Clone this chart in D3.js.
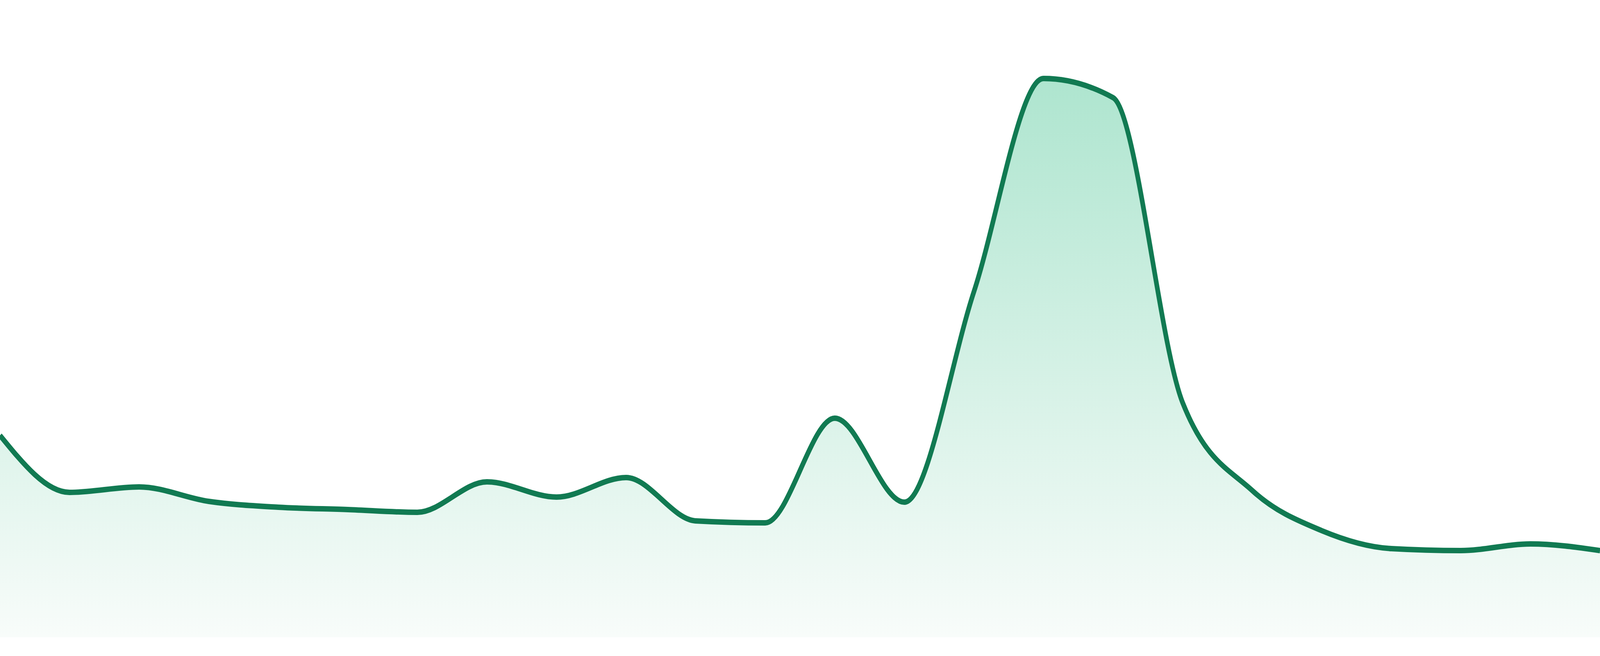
<!DOCTYPE html>
<html>
<head>
<meta charset="utf-8">
<script src="https://cdn.jsdelivr.net/npm/d3@7/dist/d3.min.js"></script>
<style>
  html, body { margin: 0; padding: 0; width: 100%; height: 100%; overflow: hidden; background: #ffffff; }
  svg { display: block; width: 100vw; height: 100vh; }
</style>
</head>
<body>
<svg id="chart" viewBox="0 0 4800 1680" preserveAspectRatio="none"></svg>
<script>
// Hourly categories and series values
const categories = ["00:00","01:00","02:00","03:00","04:00","05:00","06:00","07:00",
                    "08:00","09:00","10:00","11:00","12:00","13:00","14:00","15:00",
                    "16:00","17:00","18:00","19:00","20:00","21:00","22:00","23:00"];
const values = [51.7, 37.1, 38.5, 34.8, 33.3, 32.7, 32.0, 39.8,
                35.9, 40.9, 29.8, 29.3, 56.1, 34.6, 88.5, 143.1,
                138.2, 60.1, 37.6, 27.3, 22.7, 22.2, 23.9, 22.2];
const yDomain = [0, 150];

(function () {
  const W = 4800;
  const plotBottom = 1632, plotTop = 132;

  const svg = d3.select("#chart");
  const data = categories.map((c, i) => ({ c, v: values[i] }));

  const x = d3.scalePoint().domain(categories).range([0, W]);
  const y = d3.scaleLinear().domain(yDomain).range([plotBottom, plotTop]);

  const defs = svg.append("defs");
  const grad = defs.append("linearGradient")
    .attr("id", "fillGrad")
    .attr("gradientUnits", "userSpaceOnUse")
    .attr("x1", 0).attr("x2", 0)
    .attr("y1", y(d3.max(values))).attr("y2", plotBottom);
  grad.append("stop").attr("offset", "0%").attr("stop-color", "#aee5cf");
  grad.append("stop").attr("offset", "100%").attr("stop-color", "#f8fcfa");

  const area = d3.area()
    .x(d => x(d.c))
    .y0(plotBottom)
    .y1(d => y(d.v))
    .curve(d3.curveMonotoneX);

  const line = d3.line()
    .x(d => x(d.c))
    .y(d => y(d.v))
    .curve(d3.curveMonotoneX);

  svg.append("path")
    .datum(data)
    .attr("d", area)
    .attr("fill", "url(#fillGrad)");

  svg.append("path")
    .datum(data)
    .attr("d", line)
    .attr("fill", "none")
    .attr("stroke", "#117a52")
    .attr("stroke-width", 14)
    .attr("stroke-linejoin", "round");
})();
</script>
</body>
</html>
